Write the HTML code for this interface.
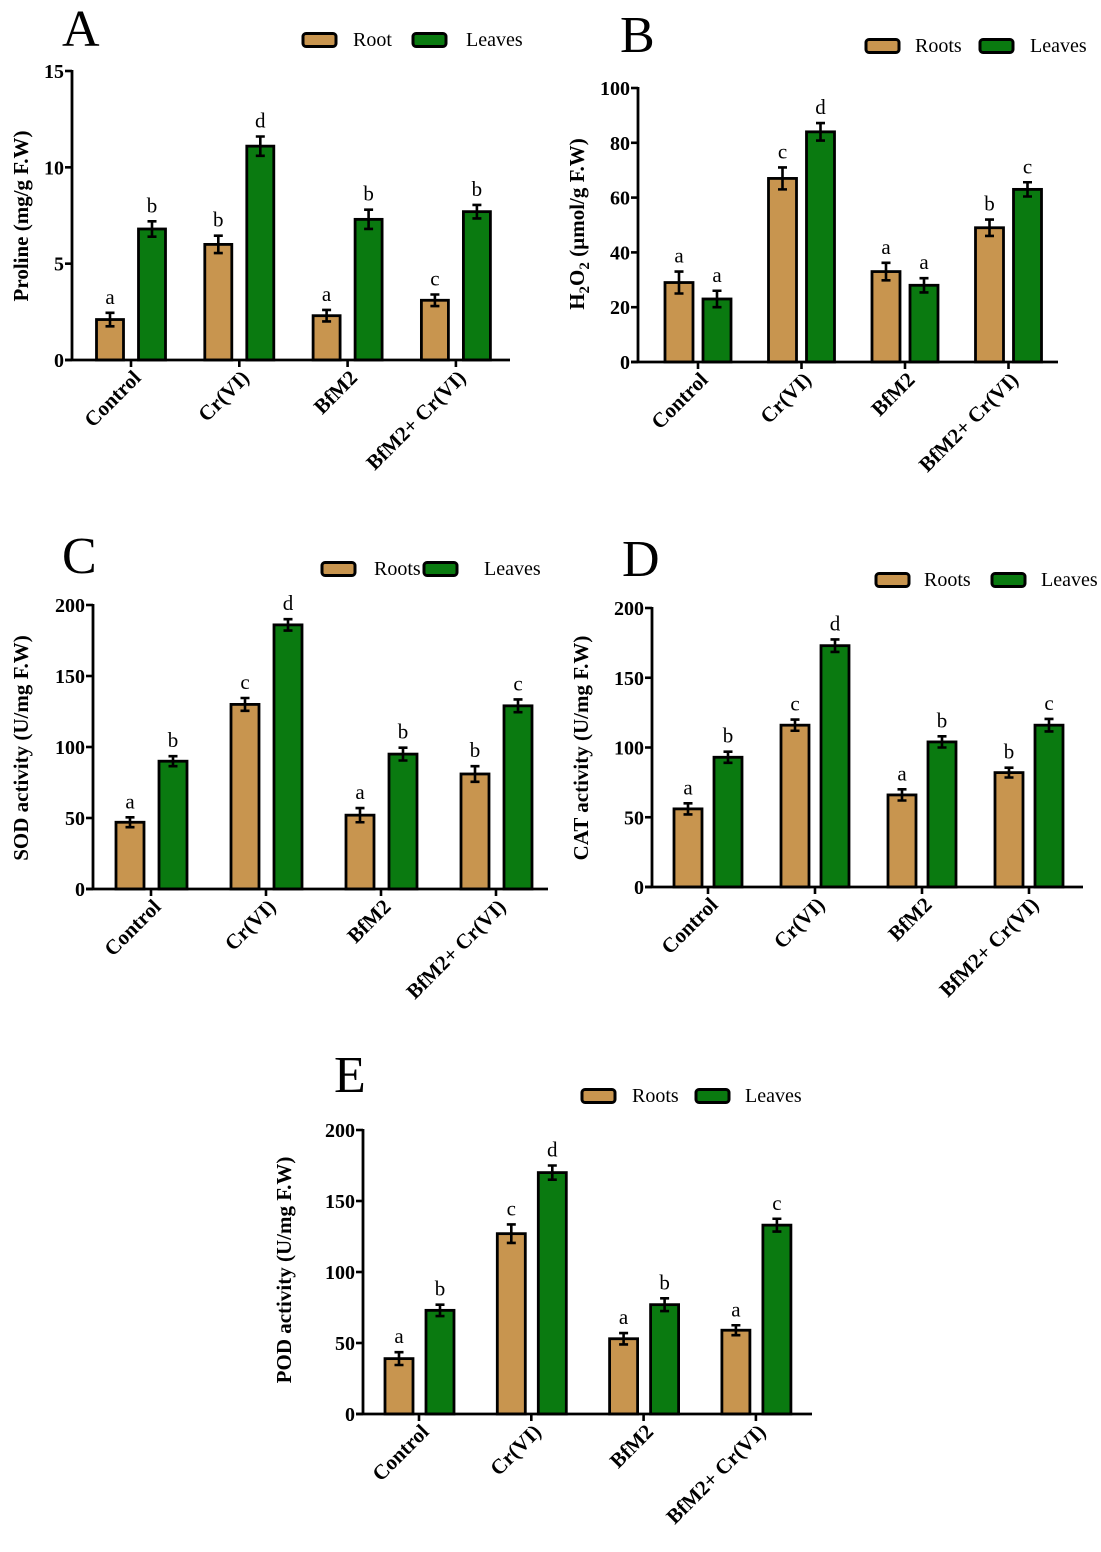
<!DOCTYPE html>
<html><head><meta charset="utf-8">
<style>
html,body{margin:0;padding:0;background:#fff;}
svg{display:block;font-family:"Liberation Serif",serif;}
</style></head>
<body>
<svg id="fig" width="1101" height="1552" viewBox="0 0 1101 1552" xmlns="http://www.w3.org/2000/svg"></svg>
<script>
const categories = ["Control","Cr(VI)","BfM2","BfM2+ Cr(VI)"];
const aRoot = [2.1, 6.0, 2.3, 3.1];
const aRootErr = [0.35, 0.45, 0.3, 0.3];
const aLeaf = [6.8, 11.1, 7.3, 7.7];
const aLeafErr = [0.4, 0.5, 0.5, 0.35];
const aRootLetters = ["a","b","a","c"];
const aLeafLetters = ["b","d","b","b"];
const aTicks = [0,5,10,15];
const bRoot = [29, 67, 33, 49];
const bRootErr = [4, 4, 3.2, 3];
const bLeaf = [23, 84, 28, 63];
const bLeafErr = [3, 3.2, 2.6, 2.6];
const bRootLetters = ["a","c","a","b"];
const bLeafLetters = ["a","d","a","c"];
const bTicks = [0,20,40,60,80,100];
const cRoot = [47, 130, 52, 81];
const cRootErr = [3.5, 4.5, 5, 5.5];
const cLeaf = [90, 186, 95, 129];
const cLeafErr = [3.5, 4, 4.5, 4.5];
const cRootLetters = ["a","c","a","b"];
const cLeafLetters = ["b","d","b","c"];
const cTicks = [0,50,100,150,200];
const dRoot = [56, 116, 66, 82];
const dRootErr = [4, 4, 4, 3.5];
const dLeaf = [93, 173, 104, 116];
const dLeafErr = [4, 4.5, 4, 4.5];
const dRootLetters = ["a","c","a","b"];
const dLeafLetters = ["b","d","b","c"];
const dTicks = [0,50,100,150,200];
const eRoot = [39, 127, 53, 59];
const eRootErr = [4.5, 6.5, 4, 3.5];
const eLeaf = [73, 170, 77, 133];
const eLeafErr = [4, 5, 4.5, 4.5];
const eRootLetters = ["a","c","a","a"];
const eLeafLetters = ["b","d","b","c"];
const eTicks = [0,50,100,150,200];

const NS="http://www.w3.org/2000/svg";
const svg=document.getElementById('fig');
function mk(tag,attrs,parent,text){
  const e=document.createElementNS(NS,tag);
  for(const k in attrs)e.setAttribute(k,attrs[k]);
  if(text!==undefined)e.textContent=text;
  (parent||svg).appendChild(e);return e;
}
const ROOT="#c8954f", LEAF="#0a7a10";

function panel(cfg){
  const g=mk('g',{});
  
  
  const yMax=cfg.ticks[cfg.ticks.length-1];
  const y=v=>cfg.zero-(v/yMax)*(cfg.zero-cfg.top);
  const x=i=>cfg.t0+i*cfg.sp;
  const pl=mk('text',{x:cfg.lx,y:cfg.ly,'font-size':52},g,cfg.id);
  
  
  const series=[[cfg.root,cfg.rootErr,cfg.rootL,ROOT,cfg.ro,'root'],[cfg.leaf,cfg.leafErr,cfg.leafL,LEAF,cfg.lo,'leaves']];
  series.forEach(([vals,errs,lets,col,off,nm])=>{
    vals.forEach((v,i)=>{
      const cx=x(i)+off, w=cfg.bw;
      const r=mk('rect',{x:cx-w/2,y:y(v),width:w,height:cfg.zero-y(v),fill:col,stroke:'#000','stroke-width':2.8},g);
      
      
      const yt=y(v+errs[i]), yb=y(v-errs[i]);
      const eb=mk('path',{d:`M${cx},${yt}V${yb}M${cx-4.5},${yt}H${cx+4.5}M${cx-4.5},${yb}H${cx+4.5}`,stroke:'#000','stroke-width':2.6,fill:'none'},g);
      
      
      const lt=mk('text',{x:cx,y:yt-9,'font-size':21,'text-anchor':'middle'},g,lets[i]);
      
      
    });
  });
  const ya=mk('line',{x1:cfg.ax,y1:cfg.top-1,x2:cfg.ax,y2:cfg.zero,stroke:'#000','stroke-width':2.8},g);
  
  
  const xa=mk('line',{x1:cfg.ax-7,y1:cfg.zero,x2:cfg.right,y2:cfg.zero,stroke:'#000','stroke-width':2.8},g);
  
  
  cfg.ticks.forEach(t=>{
    mk('line',{x1:cfg.ax-7,y1:y(t),x2:cfg.ax,y2:y(t),stroke:'#000','stroke-width':2.6},g);
    const tl=mk('text',{x:cfg.ax-8,y:y(t)+7,'font-size':20,'font-weight':'bold','text-anchor':'end'},g,String(t));
    
    
  });
  categories.forEach((c,i)=>{
    mk('line',{x1:x(i),y1:cfg.zero,x2:x(i),y2:cfg.zero+7,stroke:'#000','stroke-width':2.6},g);
    const px=x(i)+11, py=cfg.zero+19;
    const cl=mk('text',{x:px,y:py,'font-size':21,'font-weight':'bold','text-anchor':'end',transform:`rotate(-45 ${px} ${py})`},g,c);
    
    
  });
  const yt=mk('text',{x:cfg.tx,y:cfg.ty,'font-size':21,'font-weight':'bold','text-anchor':'middle',transform:`rotate(-90 ${cfg.tx} ${cfg.ty})`},g);
  
  
  if(cfg.h2o2){
    mk('tspan',{},yt,'H');
    mk('tspan',{'font-size':15,dy:5},yt,'2');
    mk('tspan',{dy:-5},yt,'O');
    mk('tspan',{'font-size':15,dy:5},yt,'2');
    mk('tspan',{dy:-5},yt,'  (µmol/g F.W)');
  } else yt.textContent=cfg.title;
  [[cfg.leg[0],ROOT,cfg.leg[1],cfg.rootName,'legend-roots'],[cfg.leg[2],LEAF,cfg.leg[3],'Leaves','legend-leaves']].forEach(([bx,col,tx,name,dn])=>{
    const lg=mk('g',{},g);
    
    
    mk('rect',{x:bx,y:cfg.legY-6.5,width:33,height:13,rx:3,fill:col,stroke:'#000','stroke-width':3},lg);
    mk('text',{x:tx,y:cfg.legY+6,'font-size':20},lg,name);
  });
}

panel({id:'A',root:aRoot,rootErr:aRootErr,leaf:aLeaf,leafErr:aLeafErr,rootL:aRootLetters,leafL:aLeafLetters,ticks:aTicks,
  ax:72,top:71,zero:360,right:510,t0:131,sp:108.3,ro:-21,lo:21,bw:27,lx:62,ly:46,tx:28,ty:216,title:'Proline (mg/g F.W)',
  leg:[303,353,413,466],legY:40,rootName:'Root'});
panel({id:'B',root:bRoot,rootErr:bRootErr,leaf:bLeaf,leafErr:bLeafErr,rootL:bRootLetters,leafL:bLeafLetters,ticks:bTicks,
  ax:638,top:88,zero:362,right:1058,t0:698,sp:103.5,ro:-19,lo:19,bw:28,lx:620,ly:52,tx:584,ty:224,h2o2:true,
  leg:[866,915,980,1030],legY:46,rootName:'Roots'});
panel({id:'C',root:cRoot,rootErr:cRootErr,leaf:cLeaf,leafErr:cLeafErr,rootL:cRootLetters,leafL:cLeafLetters,ticks:cTicks,
  ax:93,top:605,zero:889,right:548,t0:151,sp:115,ro:-21,lo:22,bw:28,lx:62,ly:573,tx:28,ty:748,title:'SOD activity  (U/mg F.W)',
  leg:[322,374,424,484],legY:569,rootName:'Roots'});
panel({id:'D',root:dRoot,rootErr:dRootErr,leaf:dLeaf,leafErr:dLeafErr,rootL:dRootLetters,leafL:dLeafLetters,ticks:dTicks,
  ax:652,top:608,zero:887,right:1083,t0:708,sp:107,ro:-20,lo:20,bw:28,lx:622,ly:576,tx:588,ty:748,title:'CAT activity (U/mg F.W)',
  leg:[876,924,992,1041],legY:580,rootName:'Roots'});
panel({id:'E',root:eRoot,rootErr:eRootErr,leaf:eLeaf,leafErr:eLeafErr,rootL:eRootLetters,leafL:eLeafLetters,ticks:eTicks,
  ax:363,top:1130,zero:1414,right:812,t0:419,sp:112.3,ro:-20,lo:21,bw:28,lx:334,ly:1092,tx:291,ty:1270,title:'POD activity (U/mg F.W)',
  leg:[582,632,696,745],legY:1096,rootName:'Roots'});
</script>
</body></html>
